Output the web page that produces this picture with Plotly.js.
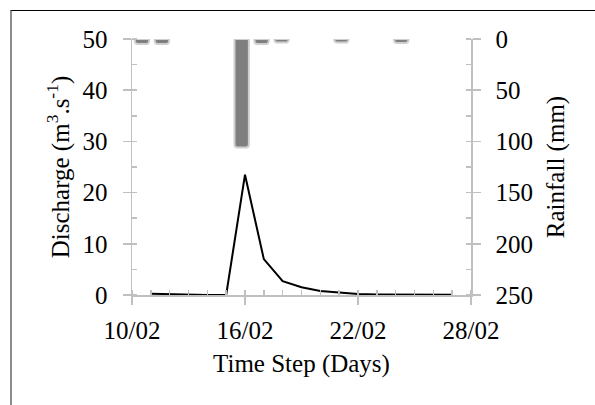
<!DOCTYPE html>
<html>
<head>
<meta charset="utf-8">
<script src="https://cdn.plot.ly/plotly-3.0.1.min.js"></script>
<style>
html,body{margin:0;padding:0;background:#fff;}
#wrap{position:relative;width:595px;height:405px;overflow:hidden;}
#chart{width:595px;height:405px;}
#frame{position:absolute;left:10px;top:10px;width:700px;height:500px;border-top:1px solid #000;border-left:2px solid #8c8c8c;pointer-events:none;}
</style>
</head>
<body>
<div id="wrap"><div id="chart"></div><div id="frame"></div></div>
<script>
// Discharge (line), daily
const dischargeDates = ['2001-02-11','2001-02-12','2001-02-13','2001-02-14','2001-02-15','2001-02-16','2001-02-17','2001-02-18','2001-02-19','2001-02-20','2001-02-21','2001-02-22','2001-02-23','2001-02-24','2001-02-25','2001-02-26','2001-02-27'];
const dischargeValues = [0.25, 0.15, 0, 0, 0, 23.5, 7.0, 2.7, 1.5, 0.8, 0.5, 0.2, 0.12, 0.1, 0.05, 0.05, 0.05];
// Rainfall (bars, reversed right axis)
const rainDates = ['2001-02-11','2001-02-12','2001-02-16','2001-02-17','2001-02-18','2001-02-21','2001-02-24'];
const rainValues = [5, 5, 106, 5, 3.5, 3.5, 4];
// Axis labels
const xTitle = 'Time Step (Days)';
const yTitle = 'Discharge (m<sup>3</sup>.s<sup>-1</sup>)';
const y2Title = 'Rainfall (mm)';

const DAY = 86400000;
const axCol = '#c0c0c0';
const fnt = {family: 'Liberation Serif, Times New Roman, serif', size: 25, color: '#000'};

const traces = [
  {type:'bar', x: rainDates, y: rainValues, xaxis:'x2', yaxis:'y2',
   width: 0.72*DAY,
   marker:{color:'#7f7f7f', line:{color:'#cfcfcf', width:2}, cornerradius:3},
   hoverinfo:'skip', showlegend:false},
  {type:'scatter', mode:'lines', x: dischargeDates, y: dischargeValues, xaxis:'x', yaxis:'y',
   line:{color:'#000', width:2}, showlegend:false},
  {type:'scatter', x:[], y:[], xaxis:'x3', yaxis:'y3', showlegend:false},
  {type:'scatter', x:[], y:[], xaxis:'x3', yaxis:'y4', showlegend:false}
];

const layout = {
  width:595, height:405,
  margin:{l:132, r:124, t:39, b:110},
  paper_bgcolor:'#fff', plot_bgcolor:'rgba(0,0,0,0)',
  font: fnt,
  showlegend:false,
  xaxis:{type:'date', range:['2001-02-10','2001-02-28'], tick0:'2001-02-10', dtick:6*DAY,
    tickformat:'%d/%m', ticks:'outside', ticklen:8, tickwidth:1.5, tickcolor:axCol,
    showline:true, linecolor:axCol, linewidth:1.5, showgrid:false, zeroline:false,
    ticklabelstandoff:4, tickfont:fnt,
    minor:{dtick:DAY, tick0:'2001-02-10', ticks:'inside', ticklen:5, tickwidth:1.5, tickcolor:axCol, showgrid:false},
    title:{text:xTitle, font:fnt, standoff:12}, anchor:'y'},
  xaxis2:{type:'date', overlaying:'x', range:['2001-02-10 12:00','2001-02-27 12:00'], visible:false, anchor:'y2'},
  xaxis3:{type:'date', overlaying:'x', range:['2001-02-10','2001-02-28'], tick0:'2001-02-10', dtick:6*DAY,
    ticks:'inside', ticklen:5, tickwidth:1.5, tickcolor:axCol, showticklabels:false, showline:false,
    showgrid:false, zeroline:false, anchor:'y3'},
  yaxis:{range:[0,50], dtick:10, ticks:'outside', ticklen:8, tickwidth:1.5, tickcolor:axCol,
    showline:true, linecolor:axCol, linewidth:1.5, showgrid:false, zeroline:false,
    ticklabelstandoff:10, tickfont:fnt,
    minor:{dtick:5, ticks:'inside', ticklen:5, tickwidth:1.5, tickcolor:axCol, showgrid:false},
    title:{text:yTitle, font:fnt, standoff:6}, anchor:'x'},
  yaxis2:{range:[250,0], dtick:50, side:'right', overlaying:'y', anchor:'x2',
    ticks:'outside', ticklen:8, tickwidth:1.5, tickcolor:axCol,
    showline:true, linecolor:axCol, linewidth:1.5, showgrid:false, zeroline:false,
    ticklabelstandoff:10, tickfont:fnt,
    minor:{dtick:25, ticks:'inside', ticklen:5, tickwidth:1.5, tickcolor:axCol, showgrid:false},
    title:{text:y2Title, font:fnt, standoff:14}},
  yaxis3:{range:[0,50], dtick:10, overlaying:'y', anchor:'x3', ticks:'inside', ticklen:5, tickwidth:1.5,
    tickcolor:axCol, showticklabels:false, showline:false, showgrid:false, zeroline:false},
  yaxis4:{range:[250,0], dtick:50, overlaying:'y', side:'right', anchor:'x3', ticks:'inside', ticklen:5, tickwidth:1.5,
    tickcolor:axCol, showticklabels:false, showline:false, showgrid:false, zeroline:false}
};

Plotly.newPlot('chart', traces, layout, {displayModeBar:false, staticPlot:true});
</script>
</body>
</html>
